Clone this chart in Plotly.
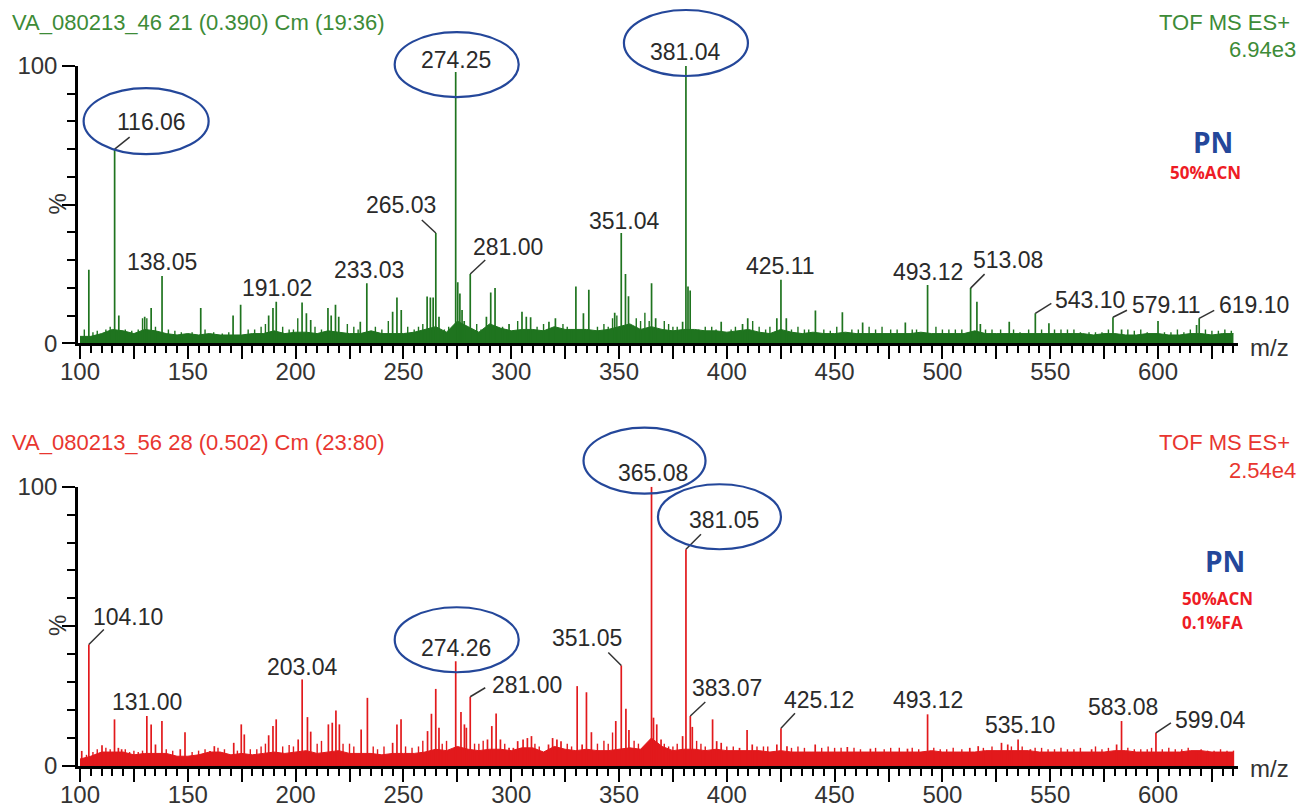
import plotly.graph_objects as go

# ---------------- data ----------------
X_RANGE = [99.07, 637.1]
BASE_MZ_START, BASE_MZ_STEP = 100, 5

# top spectrum (PN, 50% ACN) -- main peaks (m/z, %)
top_peaks = [
    (104.1, 26.5), (116.06, 70), (118, 10), (130, 9.6), (133, 12.7), (138.05, 24.3),
    (156, 12.7), (171, 10), (174.5, 13.9), (187.5, 10), (189.5, 12.7), (191.02, 15),
    (203, 14.7), (205, 10.8), (207, 8.4), (215, 12.7), (216.5, 10), (218.5, 13.9),
    (220, 9.6), (230, 7.8), (233.03, 21.7), (245, 11.4), (247, 16.5), (249, 12),
    (261, 16.9), (262.5, 16.5), (263.8, 16.5), (265.03, 39.8), (266.5, 9.6),
    (274.25, 97.8), (275.2, 22), (276.2, 18), (277.2, 12), (278.2, 8), (281.00, 25),
    (288.5, 9.6), (290.5, 18.3), (292.5, 19.9), (299, 7), (305, 11.4), (307, 9.6),
    (309, 9.4), (317.5, 7.8), (320.5, 9), (330, 20.5), (333.5, 10.8), (336, 19.3),
    (348, 11), (351.04, 39.8), (353, 25), (354.4, 17), (365.1, 21.7), (367, 9),
    (379.5, 7.8), (381.04, 100), (382.0, 20.5), (383.0, 19), (397.4, 7.8), (407.3, 7),
    (409.7, 9), (423.2, 9), (425.11, 22.9), (427.6, 9), (441.1, 11.8), (453.6, 11.2),
    (463, 7.5), (482.8, 7.5), (493.12, 21), (513.08, 19.9), (516, 15), (517.6, 7),
    (531, 7.8), (543.10, 10.8), (549.4, 7.2), (579.11, 9.4), (583.1, 5), (600, 8),
    (617.9, 6.6), (619.10, 9),
]
top_noise = [
    (102, 5), (106, 4), (108, 4.5), (112, 5), (114, 6), (121, 5), (124, 4.5), (127, 5),
    (129, 9), (131, 9), (135, 6), (141, 5), (144, 4.5), (147, 4), (152, 4), (158, 5),
    (162, 4), (166, 3.5), (169, 4), (178, 5), (181, 5), (184, 6), (186, 7), (194, 6),
    (197, 5), (199, 5), (201, 9), (209, 6), (212, 5), (224, 7), (227, 6), (229, 5),
    (237, 6), (240, 5), (243, 8), (252, 6), (255, 5), (257, 6), (259, 7), (269, 5),
    (271, 6), (284, 7), (286, 5), (296, 6), (298, 5), (303, 8), (312, 6), (315, 7),
    (324, 7), (326, 6), (328, 5), (340, 6), (343, 7), (345, 6), (347, 9), (349, 10),
    (358, 9), (360, 8), (362, 11), (364, 8), (371, 8), (373, 7), (375, 6), (377, 6),
    (387, 5), (390, 6), (393, 6), (395, 5), (402, 5), (404, 6), (412, 8), (415, 6),
    (418, 5), (420, 6), (430, 5), (433, 6), (436, 5), (438, 5), (445, 5), (448, 4.5),
    (451, 6), (458, 5), (461, 5), (466, 6), (469, 5), (472, 6), (476, 5), (479, 5),
    (486, 5), (488, 5), (497, 6), (500, 5), (503, 5), (506, 5), (509, 5), (520, 5),
    (523, 5), (527, 5), (533, 5), (536, 4), (540, 5), (546, 5), (552, 5), (555, 5),
    (558, 5), (561, 5), (564, 4), (568, 4), (571, 4), (574, 4), (577, 5), (586, 5),
    (589, 4.5), (592, 5), (595, 4), (603, 4), (606, 4), (609, 5), (612, 4), (615, 5),
    (622, 5), (625, 4.5), (628, 4.5), (631, 5), (634, 4.5),
]
# baseline noise level every 5 m/z from 100 to 635
top_base = [
    2.5, 2.5, 3.5, 5, 4.5, 3.5, 5, 4.5, 3.5, 3,
    3.5, 3, 3.5, 3, 3, 3, 3.5, 3.5, 4.5, 3.5,
    4, 4, 3.5, 4.5, 4, 3.5, 3.5, 4.5, 3.5, 3.5,
    3.5, 4, 5, 6, 4, 8, 6, 4, 7, 5.5,
    4.5, 5, 5, 4.5, 6, 5, 5, 5, 4.5, 5,
    6, 7, 5, 6, 5, 4.5, 5, 5, 4.5, 4.5,
    4, 4.5, 5, 4, 3.5, 5, 4, 3.5, 4, 3.5,
    3.5, 4, 3.5, 3.5, 3.5, 3.5, 3.5, 3.5, 4, 3.5,
    3.5, 3.5, 3.5, 4.5, 3.5, 3.5, 3.5, 3.5, 3.5, 3.5,
    3.5, 3.5, 3.5, 3.5, 3, 3.5, 3.5, 3, 3, 3.5,
    3.5, 3, 3, 3.5, 3.5, 3, 3.5, 3.5,
]
top_labels = ["116.06", "138.05", "191.02", "233.03", "265.03", "274.25", "281.00",
              "351.04", "381.04", "425.11", "493.12", "513.08", "543.10", "579.11", "619.10"]
top_circled = ["116.06", "274.25", "381.04"]

# bottom spectrum (PN, 50% ACN, 0.1% FA)
bot_peaks = [
    (100.8, 5.4), (104.10, 43.5), (110.2, 7.4), (116, 16.7), (117.8, 6.5), (119.3, 6),
    (131.00, 17.9), (133, 14.9), (135, 7.7), (138, 16.1), (146.5, 6), (148.7, 12.1),
    (160.3, 5.4), (162.3, 7.1), (171.3, 8.3), (174.8, 14.9), (176.2, 11.3), (187.5, 11),
    (189.5, 14.3), (191, 16.7), (201.2, 9.5), (203.04, 31), (205.5, 17.5), (207, 12.3),
    (215.2, 14.9), (217, 15.5), (218.7, 19.9), (220.3, 14.9), (230.4, 13.1), (233.3, 24.4),
    (245, 8.3), (247, 14.9), (248.9, 16.7), (261.2, 12.5), (263, 18.7), (265, 27.6),
    (266.5, 13.7), (274.26, 37.5), (276.7, 19.3), (278.3, 14.9), (279.2, 13.7),
    (281.00, 24.8), (289, 9.5), (291, 14.3), (293, 18.8), (295, 9.5), (299, 6.5),
    (301, 6.5), (303, 8.9), (305.5, 9.5), (307.5, 10), (309.4, 10.7), (317.3, 7.7),
    (319.2, 10), (321.2, 9.5), (323.1, 8.9), (330.6, 28.6), (332.9, 7.7), (334.9, 26.4),
    (337.2, 12.1), (348.5, 16.1), (351.05, 36), (353.2, 20.5), (354.6, 12.9), (361, 6.5),
    (365.08, 100), (366, 17.3), (367.5, 14.9), (369.5, 9.5), (379.5, 10.7), (381.05, 77.6),
    (383.07, 17.9), (384, 14), (393.4, 16.7), (395.3, 8.9), (397.4, 8.3), (405.9, 6.5),
    (409.4, 12.9), (411.8, 7.7), (423.2, 7.7), (425.12, 13.5), (427.9, 7.1), (441, 7.7),
    (455.9, 6.8), (466.6, 6.2), (483.8, 6.2), (493.12, 18.5), (512.7, 6.5), (516.6, 7.1),
    (527.4, 8.3), (530.3, 7.7), (535.10, 9.5), (540.8, 6), (569.2, 6), (580.8, 7.7),
    (583.08, 16.1), (599.04, 11.9), (617.9, 5.4),
]
bot_noise = [
    (103, 4), (106, 5), (108, 6), (112, 6.5), (114, 6), (121, 6), (123, 5), (125, 5.5),
    (127, 5), (129, 5.5), (140, 6), (143, 5.5), (152, 5), (155, 5.5), (158, 6), (164, 6.5),
    (167, 6), (173, 5.5), (179, 6), (182, 6), (184, 7), (186, 8), (194, 7), (197, 7.5),
    (199, 7), (210, 8), (212, 9), (222, 8), (225, 8), (227, 7), (236, 7), (238, 6),
    (241, 7), (251, 7), (254, 6.5), (257, 7), (259, 9), (268, 8), (270, 9), (283, 8),
    (285, 8), (287, 9), (297, 8), (311, 8), (313, 7), (326, 8), (328, 7), (340, 8),
    (343, 9), (345, 8), (347, 12), (357, 9), (359, 8), (371, 8), (373, 7), (375, 7),
    (377, 8), (386, 9), (388, 8), (390, 7), (400, 7), (403, 7), (414, 7), (417, 7),
    (419, 7), (430, 6.5), (433, 7), (436, 6.5), (444, 6.5), (447, 7), (450, 6.5),
    (453, 6.5), (459, 6.5), (462, 6), (469, 6.5), (473, 6), (476, 6.5), (480, 6.5),
    (486, 6.5), (489, 6), (496, 6.5), (499, 6), (502, 6), (505, 6.5), (509, 6), (519, 6.5),
    (523, 7), (532, 7), (537, 7), (543, 6.5), (546, 6.5), (549, 6), (552, 6), (555, 6.5),
    (558, 6), (561, 6), (564, 6.5), (571, 7), (574, 6), (577, 6.5), (586, 6.5), (589, 6),
    (592, 6), (595, 6), (597, 6.5), (602, 6), (605, 6.5), (608, 6), (611, 6), (614, 6.5),
    (620, 6), (623, 5.5), (626, 5.5), (629, 6), (632, 5.5), (635, 5.5),
]
bot_base = [
    2.5, 3.5, 5, 5, 5, 4, 4.5, 4.5, 4.5, 3.5,
    3.5, 4, 5, 5, 4, 4.5, 4, 4.5, 5, 4.5,
    5, 5.5, 4.5, 5, 5.5, 4.5, 4.5, 4.5, 4, 4.5,
    4.5, 4.5, 5, 6, 5.5, 7, 6, 5.5, 6, 6,
    5.5, 6.5, 6.5, 5, 7, 6, 5.5, 6, 5.5, 5.5,
    6, 6.5, 6, 10, 7, 5.5, 6, 6, 5.5, 6,
    5.5, 5.5, 5.5, 5.5, 5, 5.5, 5, 5, 5, 5,
    5, 5, 5, 5, 5, 5, 5, 5, 5, 5.5,
    5, 5, 5, 5, 5.5, 5.5, 5.5, 5.5, 5.5, 5,
    5, 5, 5, 5, 5, 5, 5.5, 5.5, 5, 5,
    5, 5, 5, 5.5, 5.5, 5, 5, 5,
]
bot_labels = ["104.10", "131.00", "203.04", "274.26", "281.00", "351.05", "365.08",
              "381.05", "383.07", "425.12", "493.12", "535.10", "583.08", "599.04"]
bot_circled = ["274.26", "365.08", "381.05"]

x_tick_vals = [100, 125, 150, 175, 200, 225, 250, 275, 300, 325, 350, 375,
               400, 425, 450, 475, 500, 525, 550, 575, 600, 625]
x_tick_text = ["100", "", "150", "", "200", "", "250", "", "300", "", "350", "",
               "400", "", "450", "", "500", "", "550", "", "600", ""]

top_header = ("VA_080213_46 21 (0.390) Cm (19:36)", "TOF MS ES+", "6.94e3")
bot_header = ("VA_080213_56 28 (0.502) Cm (23:80)", "TOF MS ES+", "2.54e4")
top_notes = ["50%ACN"]
bot_notes = ["50%ACN", "0.1%FA"]

# ---------------- style ----------------
OFF = 8                      # page body margin: figure starts 8px in from the window corner
W, H = 1311 - OFF, 808 - OFF
ML, MT = 78 - OFF, 66 - OFF  # plot area in window pixels: x 78..1238, y 66..766
MR, MB = W - (1238 - OFF), H - (766 - OFF)
PW, PH = W - ML - MR, H - MT - MB
FONT = "Liberation Sans, Arial, sans-serif"
GREEN, GREEN_TXT = "#1f741f", "#3d8b37"
RED, RED_TXT = "#e2191c", "#e8362f"
BLUE = "#24479a"
LABEL_COL = "#2a2a2a"

# label offsets in px: (dx, dy_up, leader (dx, dy_up) or None)
top_label_style = {
    "116.06": (37, 27, (15, 12)), "138.05": (0, 14, None), "191.02": (1, 14, None),
    "233.03": (2, 13, None), "265.03": (-35, 28, (-14, 13)), "274.25": (0, 12, None),
    "281.00": (38, 27, (15, 14)), "351.04": (3, 12, None), "381.04": (0, 14, None),
    "425.11": (0, 14, None), "493.12": (0, 13, None), "513.08": (37, 28, (14, 14)),
    "543.10": (55, 13, (16, 10)), "579.11": (54, 12, (14, 7)), "619.10": (55, 13, (15, 8)),
}
bot_label_style = {
    "104.10": (39, 28, (15, 15)), "131.00": (0, 14, None), "203.04": (0, 12, None),
    "274.26": (0, 13, None), "281.00": (57, 12, (15, 9)), "351.05": (-34, 27, (-13, 13)),
    "365.08": (1, 14, None), "381.05": (38, 29, (15, 15)), "383.07": (37, 28, (15, 14)),
    "425.12": (38, 28, (14, 15)), "493.12": (0, 14, None), "535.10": (2, 14, None),
    "583.08": (1, 14, None), "599.04": (55, 13, (15, 10)),
}
# ellipse pixel box relative to the peak top: (x0, x1, y0, y1)
top_ellipse_style = {"116.06": (-31, 94, -5, 61), "274.25": (-61, 63, -25, 40),
                     "381.04": (-62, 62, -10, 56)}
bot_ellipse_style = {"274.26": (-61, 63, -11, 54), "365.08": (-68, 54, -7, 59),
                     "381.05": (-28, 95, 0, 65)}

top_dom = [(766 - 343.3) / PH, 1.0]
bot_dom = [0.0, (766 - 486.7) / PH]


def px_to_paper(px, py):
    """window pixel -> paper fraction"""
    return (px - OFF - ML) / PW, (H - MB - (py - OFF)) / PH


def data_to_paper(m, h, dom):
    return (m - X_RANGE[0]) / (X_RANGE[1] - X_RANGE[0]), dom[0] + h / 100 * (dom[1] - dom[0])


def sticks(peaks):
    xs, ys = [], []
    for m, h in peaks:
        xs += [m, m, None]
        ys += [0, h, None]
    return xs, ys


fig = go.Figure()
annotations, shapes = [], []

panels = [
    dict(peaks=top_peaks, noise=top_noise, base=top_base, labels=top_labels,
         circled=top_circled, lstyle=top_label_style, estyle=top_ellipse_style,
         color=GREEN, txt=GREEN_TXT, xa="x", ya="y", dom=top_dom, header=top_header,
         notes=top_notes, title_top=8, scale_y=50, pn_x=1213, pn_y=142, note_y=[172],
         note_x=1205, notes_anchor="center", pct_y=204.5, mz_y=347),
    dict(peaks=bot_peaks, noise=bot_noise, base=bot_base, labels=bot_labels,
         circled=bot_circled, lstyle=bot_label_style, estyle=bot_ellipse_style,
         color=RED, txt=RED_TXT, xa="x2", ya="y2", dom=bot_dom, header=bot_header,
         notes=bot_notes, title_top=428, scale_y=471, pn_x=1225, pn_y=561,
         note_y=[598, 622], note_x=1180, notes_anchor="left", pct_y=626, mz_y=768),
]

for p in panels:
    base_mz = [BASE_MZ_START + BASE_MZ_STEP * i for i in range(len(p["base"]))]
    fig.add_trace(go.Scatter(x=base_mz, y=p["base"], mode="lines", fill="tozeroy",
                             line=dict(color=p["color"], width=1), fillcolor=p["color"],
                             xaxis=p["xa"], yaxis=p["ya"], hoverinfo="skip"))
    nx, ny = sticks(p["noise"])
    fig.add_trace(go.Scatter(x=nx, y=ny, mode="lines", line=dict(color=p["color"], width=1.4),
                             xaxis=p["xa"], yaxis=p["ya"], hoverinfo="skip"))
    sx, sy = sticks(p["peaks"])
    fig.add_trace(go.Scatter(x=sx, y=sy, mode="lines", line=dict(color=p["color"], width=1.7),
                             xaxis=p["xa"], yaxis=p["ya"]))
    heights = {m: h for m, h in p["peaks"]}
    for lab in p["labels"]:
        m = float(lab)
        h = heights[m]
        dx, dy, lead = p["lstyle"][lab]
        annotations.append(dict(x=m, y=h, xref=p["xa"], yref=p["ya"], text=lab,
                                showarrow=False, xshift=dx, yshift=dy,
                                font=dict(family=FONT, size=23, color=LABEL_COL)))
        if lead:
            ax_, ay_ = data_to_paper(m, h, p["dom"])
            shapes.append(dict(type="line", xref="paper", yref="paper",
                               xsizemode="pixel", ysizemode="pixel", xanchor=ax_, yanchor=ay_,
                               x0=0, y0=0, x1=lead[0], y1=lead[1],
                               line=dict(color="#333333", width=1.5)))
    for lab in p["circled"]:
        m = float(lab)
        h = heights[m]
        x0, x1, y0, y1 = p["estyle"][lab]
        ax_, ay_ = data_to_paper(m, h, p["dom"])
        shapes.append(dict(type="circle", xref="paper", yref="paper",
                           xsizemode="pixel", ysizemode="pixel", xanchor=ax_, yanchor=ay_,
                           x0=x0, x1=x1, y0=y0, y1=y1,
                           line=dict(color=BLUE, width=2.2)))
    # headers
    t, tof, scale = p["header"]
    x, y = px_to_paper(10, p["title_top"])
    annotations.append(dict(x=x, y=y, xref="paper", yref="paper", text=t, showarrow=False,
                            xanchor="left", yanchor="top",
                            font=dict(family=FONT, size=22, color=p["txt"])))
    x, y = px_to_paper(1292, p["title_top"])
    annotations.append(dict(x=x, y=y, xref="paper", yref="paper", text=tof, showarrow=False,
                            xanchor="right", yanchor="top",
                            font=dict(family=FONT, size=22, color=p["txt"])))
    x, y = px_to_paper(1298, p["scale_y"])
    annotations.append(dict(x=x, y=y, xref="paper", yref="paper", text=scale, showarrow=False,
                            xanchor="right", yanchor="middle",
                            font=dict(family=FONT, size=22, color=p["txt"])))
    # PN + notes
    x, y = px_to_paper(p["pn_x"], p["pn_y"])
    annotations.append(dict(x=x, y=y, xref="paper", yref="paper", text="<b>PN</b>",
                            showarrow=False, xanchor="center", yanchor="middle",
                            font=dict(family="Open Sans, Noto Sans, sans-serif", size=28,
                                      color=BLUE)))
    for note, ny_ in zip(p["notes"], p["note_y"]):
        x, y = px_to_paper(p["note_x"], ny_)
        annotations.append(dict(x=x, y=y, xref="paper", yref="paper", text=f"<b>{note}</b>",
                                showarrow=False, xanchor=p["notes_anchor"], yanchor="middle",
                                font=dict(family="Open Sans, Noto Sans, sans-serif", size=17,
                                          color="#ee1c25")))
    # % and m/z
    x, y = px_to_paper(57, p["pct_y"])
    annotations.append(dict(x=x, y=y, xref="paper", yref="paper", text="%", textangle=-90,
                            showarrow=False, xanchor="center", yanchor="middle",
                            font=dict(family=FONT, size=24, color="#333333")))
    x, y = px_to_paper(1248, p["mz_y"])
    annotations.append(dict(x=x, y=y, xref="paper", yref="paper", text="m/z",
                            showarrow=False, xanchor="left", yanchor="middle",
                            font=dict(family=FONT, size=24, color="#333333")))

xaxis_common = dict(range=X_RANGE, showline=True, linecolor="black", linewidth=2.5,
                    showgrid=False, zeroline=False, ticks="outside", tickmode="array",
                    tickvals=x_tick_vals, ticktext=x_tick_text, ticklen=13, tickwidth=2,
                    tickcolor="black", automargin=False, ticklabelstandoff=-8,
                    minor=dict(ticks="outside", dtick=5, tick0=100, ticklen=7, tickwidth=1.5,
                               tickcolor="black", showgrid=False),
                    tickfont=dict(family=FONT, size=24, color="#333333"), fixedrange=True)
yaxis_common = dict(range=[0, 100], showline=True, linecolor="black", linewidth=2.5,
                    showgrid=False, zeroline=False, ticks="outside", tickmode="array",
                    tickvals=[0, 50, 100], ticktext=["0", "", "100"], ticklen=13, tickwidth=2,
                    tickcolor="black", automargin=False,
                    minor=dict(ticks="outside", dtick=10, tick0=0, ticklen=8, tickwidth=1.5,
                               tickcolor="black", showgrid=False),
                    tickfont=dict(family=FONT, size=24, color="#333333"), fixedrange=True)

fig.update_layout(
    width=W, height=H, autosize=False,
    margin=dict(l=ML, r=MR, t=MT, b=MB, pad=0, autoexpand=False),
    paper_bgcolor="white", plot_bgcolor="white", showlegend=False,
    xaxis=dict(domain=[0, 1], anchor="y", **xaxis_common),
    yaxis=dict(domain=top_dom, anchor="x", **yaxis_common),
    xaxis2=dict(domain=[0, 1], anchor="y2", **xaxis_common),
    yaxis2=dict(domain=bot_dom, anchor="x2", **yaxis_common),
    annotations=annotations, shapes=shapes,
)

fig.write_html("out.html")
